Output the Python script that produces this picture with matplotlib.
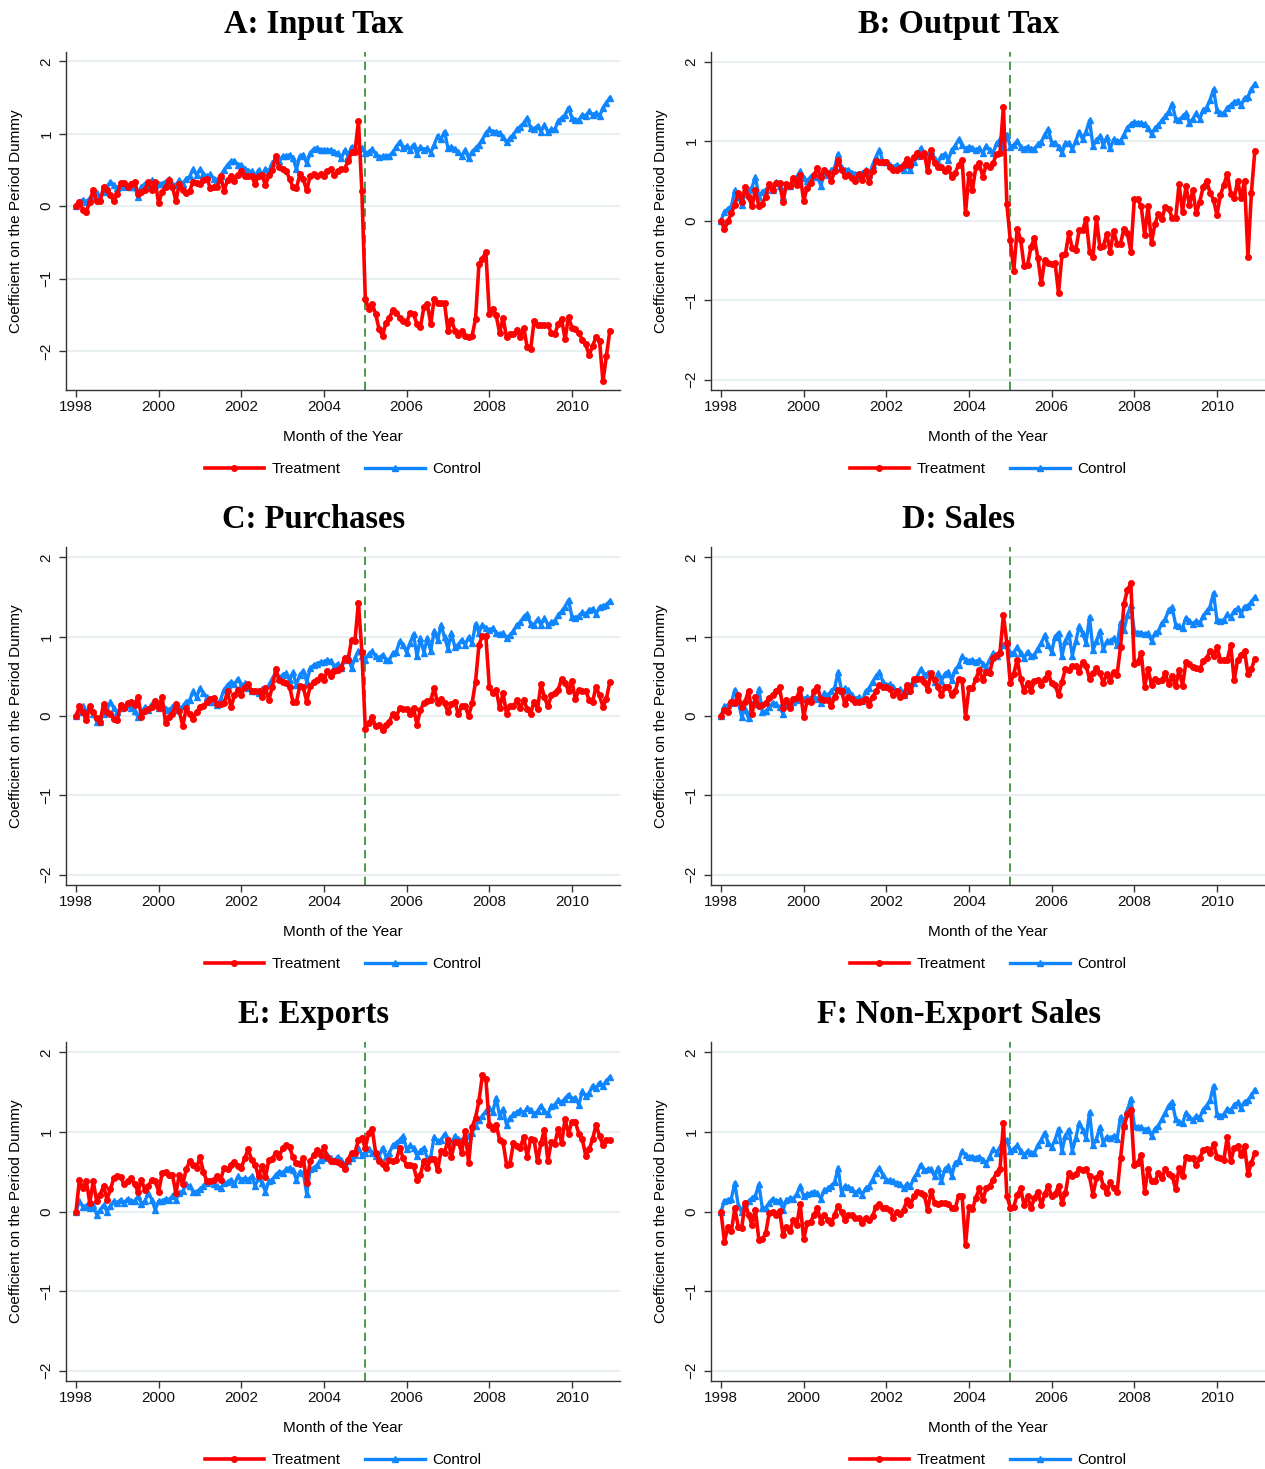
import numpy as np
import matplotlib
matplotlib.use("Agg")
import matplotlib.pyplot as plt
from matplotlib.lines import Line2D

# ---- monthly coefficients, 1998m1 .. 2010m12 (156 months) ----
input_tax_treat = [
    0.00, 0.06, -0.05, -0.08, 0.06, 0.23, 0.07, 0.07, 0.26, 0.22, 0.15, 0.07,
    0.17, 0.32, 0.32, 0.27, 0.31, 0.34, 0.17, 0.20, 0.23, 0.34, 0.22, 0.34,
    0.04, 0.20, 0.27, 0.36, 0.27, 0.07, 0.31, 0.23, 0.18, 0.21, 0.34, 0.32,
    0.31, 0.36, 0.38, 0.25, 0.27, 0.27, 0.42, 0.21, 0.36, 0.41, 0.35, 0.43,
    0.48, 0.42, 0.42, 0.41, 0.31, 0.42, 0.43, 0.29, 0.43, 0.50, 0.69, 0.54,
    0.51, 0.49, 0.38, 0.26, 0.25, 0.44, 0.37, 0.22, 0.42, 0.45, 0.41, 0.45,
    0.41, 0.48, 0.51, 0.43, 0.48, 0.51, 0.52, 0.62, 0.75, 0.75, 1.18, 0.21,
    -1.28, -1.42, -1.35, -1.49, -1.70, -1.79, -1.61, -1.54, -1.44, -1.47, -1.54, -1.58,
    -1.61, -1.47, -1.49, -1.63, -1.67, -1.40, -1.35, -1.63, -1.28, -1.34, -1.34, -1.34,
    -1.72, -1.57, -1.72, -1.78, -1.72, -1.79, -1.81, -1.79, -1.56, -0.80, -0.73, -0.63,
    -1.49, -1.42, -1.51, -1.75, -1.54, -1.81, -1.77, -1.77, -1.71, -1.81, -1.68, -1.95,
    -1.98, -1.59, -1.64, -1.64, -1.64, -1.64, -1.75, -1.77, -1.63, -1.56, -1.84, -1.53,
    -1.68, -1.70, -1.75, -1.85, -1.91, -2.06, -1.93, -1.81, -1.86, -2.42, -2.07, -1.72,
]
input_tax_ctrl = [
    0.00, 0.06, 0.09, 0.06, 0.11, 0.13, 0.18, 0.11, 0.20, 0.27, 0.34, 0.29,
    0.25, 0.27, 0.28, 0.27, 0.26, 0.27, 0.13, 0.27, 0.31, 0.26, 0.36, 0.29,
    0.31, 0.31, 0.34, 0.37, 0.31, 0.29, 0.36, 0.31, 0.38, 0.41, 0.51, 0.43,
    0.51, 0.45, 0.41, 0.44, 0.38, 0.36, 0.42, 0.50, 0.57, 0.62, 0.63, 0.57,
    0.57, 0.52, 0.49, 0.48, 0.41, 0.50, 0.43, 0.51, 0.49, 0.59, 0.66, 0.62,
    0.69, 0.69, 0.71, 0.66, 0.51, 0.69, 0.71, 0.59, 0.73, 0.79, 0.80, 0.78,
    0.78, 0.77, 0.78, 0.75, 0.73, 0.66, 0.77, 0.69, 0.82, 0.81, 0.78, 0.80,
    0.73, 0.75, 0.79, 0.72, 0.68, 0.69, 0.69, 0.69, 0.75, 0.82, 0.89, 0.80,
    0.83, 0.78, 0.85, 0.72, 0.82, 0.78, 0.80, 0.74, 0.85, 0.97, 0.93, 1.03,
    0.80, 0.82, 0.79, 0.75, 0.69, 0.78, 0.66, 0.75, 0.80, 0.85, 0.92, 1.01,
    1.06, 1.03, 1.03, 1.01, 0.95, 0.88, 0.94, 0.99, 1.06, 1.10, 1.15, 1.22,
    1.08, 1.06, 1.11, 1.03, 1.12, 1.03, 1.06, 1.06, 1.17, 1.22, 1.26, 1.36,
    1.22, 1.19, 1.19, 1.26, 1.25, 1.31, 1.26, 1.29, 1.24, 1.36, 1.43, 1.50,
]

output_tax_treat = [
    0.00, -0.11, -0.01, 0.09, 0.20, 0.35, 0.24, 0.42, 0.30, 0.18, 0.38, 0.18,
    0.21, 0.30, 0.46, 0.38, 0.47, 0.47, 0.24, 0.46, 0.43, 0.54, 0.45, 0.57,
    0.25, 0.41, 0.47, 0.57, 0.66, 0.55, 0.63, 0.60, 0.50, 0.62, 0.76, 0.63,
    0.56, 0.57, 0.54, 0.50, 0.59, 0.51, 0.62, 0.48, 0.62, 0.75, 0.74, 0.74,
    0.74, 0.67, 0.64, 0.64, 0.66, 0.70, 0.78, 0.70, 0.80, 0.85, 0.81, 0.85,
    0.62, 0.89, 0.72, 0.67, 0.67, 0.62, 0.66, 0.55, 0.60, 0.70, 0.76, 0.10,
    0.59, 0.39, 0.67, 0.72, 0.55, 0.70, 0.68, 0.72, 0.84, 0.85, 1.43, 0.21,
    -0.25, -0.63, -0.10, -0.24, -0.57, -0.56, -0.33, -0.22, -0.47, -0.79, -0.49, -0.53,
    -0.54, -0.53, -0.91, -0.43, -0.42, -0.16, -0.35, -0.37, -0.12, -0.12, 0.02, -0.39,
    -0.46, 0.03, -0.33, -0.32, -0.17, -0.39, -0.13, -0.29, -0.29, -0.10, -0.16, -0.39,
    0.27, 0.27, 0.18, -0.18, 0.18, -0.28, -0.04, 0.08, 0.02, 0.17, 0.15, 0.03,
    0.03, 0.46, 0.11, 0.43, 0.20, 0.38, 0.09, 0.24, 0.42, 0.50, 0.35, 0.26,
    0.07, 0.32, 0.45, 0.59, 0.34, 0.28, 0.50, 0.28, 0.50, -0.46, 0.35, 0.88,
]
output_tax_ctrl = [
    0.00, 0.11, 0.15, 0.18, 0.38, 0.30, 0.20, 0.34, 0.38, 0.42, 0.55, 0.30,
    0.36, 0.39, 0.43, 0.38, 0.48, 0.44, 0.30, 0.44, 0.43, 0.49, 0.55, 0.62,
    0.53, 0.50, 0.55, 0.59, 0.55, 0.44, 0.59, 0.57, 0.63, 0.67, 0.84, 0.66,
    0.64, 0.64, 0.60, 0.59, 0.56, 0.60, 0.63, 0.57, 0.70, 0.80, 0.89, 0.74,
    0.74, 0.70, 0.67, 0.70, 0.68, 0.64, 0.70, 0.63, 0.74, 0.81, 0.91, 0.84,
    0.81, 0.87, 0.78, 0.74, 0.81, 0.84, 0.76, 0.89, 0.94, 1.02, 0.95, 0.90,
    0.93, 0.91, 0.89, 0.91, 0.85, 0.94, 0.89, 0.85, 0.97, 1.02, 0.93, 1.08,
    0.93, 0.95, 1.00, 0.93, 0.90, 0.93, 0.90, 0.90, 0.96, 0.99, 1.08, 1.15,
    0.98, 0.98, 0.93, 0.85, 0.97, 0.98, 0.90, 1.00, 1.12, 1.02, 1.12, 1.26,
    0.94, 1.01, 1.06, 0.95, 1.05, 0.91, 1.02, 1.00, 1.00, 1.08, 1.17, 1.21,
    1.24, 1.23, 1.23, 1.21, 1.17, 1.09, 1.16, 1.20, 1.26, 1.31, 1.37, 1.47,
    1.28, 1.26, 1.31, 1.35, 1.23, 1.28, 1.35, 1.28, 1.39, 1.42, 1.52, 1.65,
    1.39, 1.35, 1.35, 1.42, 1.45, 1.49, 1.51, 1.45, 1.54, 1.56, 1.65, 1.72,
]

purchases_treat = [
    0.00, 0.12, 0.05, -0.05, 0.12, 0.05, -0.03, -0.07, 0.15, 0.05, 0.03, -0.04,
    -0.05, 0.14, 0.10, 0.16, 0.18, 0.14, 0.24, -0.01, 0.06, 0.09, 0.11, 0.19,
    0.10, 0.24, -0.09, -0.01, 0.03, 0.15, 0.06, -0.13, 0.10, 0.03, -0.04, 0.05,
    0.11, 0.13, 0.18, 0.22, 0.23, 0.15, 0.15, 0.16, 0.31, 0.11, 0.26, 0.33,
    0.26, 0.37, 0.40, 0.31, 0.31, 0.31, 0.24, 0.35, 0.20, 0.37, 0.59, 0.45,
    0.43, 0.42, 0.37, 0.18, 0.18, 0.38, 0.36, 0.18, 0.38, 0.43, 0.45, 0.50,
    0.45, 0.57, 0.51, 0.57, 0.58, 0.61, 0.73, 0.71, 0.96, 0.95, 1.43, 0.81,
    -0.16, -0.09, -0.01, -0.13, -0.11, -0.18, -0.11, -0.07, 0.03, -0.01, 0.10, 0.09,
    0.09, 0.03, 0.10, -0.11, 0.08, 0.16, 0.19, 0.20, 0.35, 0.16, 0.22, 0.16,
    0.05, 0.15, 0.18, 0.02, 0.12, 0.12, 0.00, 0.16, 0.43, 0.90, 1.01, 1.01,
    0.37, 0.29, 0.33, 0.10, 0.29, 0.03, 0.12, 0.12, 0.20, 0.10, 0.20, 0.09,
    0.03, 0.18, 0.09, 0.40, 0.24, 0.12, 0.26, 0.29, 0.33, 0.47, 0.42, 0.32,
    0.44, 0.21, 0.33, 0.31, 0.32, 0.20, 0.18, 0.37, 0.26, 0.11, 0.22, 0.43,
]
purchases_ctrl = [
    0.00, 0.05, 0.12, 0.03, 0.10, 0.03, -0.07, -0.07, 0.03, 0.08, 0.18, 0.10,
    0.05, 0.10, 0.11, 0.14, 0.10, 0.06, -0.01, 0.05, 0.11, 0.08, 0.15, 0.15,
    0.10, 0.15, 0.09, 0.08, 0.11, 0.08, 0.10, 0.12, 0.18, 0.20, 0.31, 0.24,
    0.35, 0.29, 0.24, 0.18, 0.18, 0.14, 0.21, 0.33, 0.39, 0.43, 0.40, 0.47,
    0.39, 0.41, 0.35, 0.32, 0.31, 0.29, 0.34, 0.31, 0.39, 0.47, 0.54, 0.48,
    0.52, 0.54, 0.45, 0.55, 0.39, 0.52, 0.57, 0.43, 0.60, 0.64, 0.66, 0.68,
    0.68, 0.71, 0.69, 0.62, 0.66, 0.60, 0.71, 0.75, 0.61, 0.73, 0.82, 0.75,
    0.71, 0.78, 0.82, 0.75, 0.73, 0.77, 0.71, 0.71, 0.79, 0.81, 0.94, 0.90,
    0.80, 0.92, 1.03, 0.75, 0.98, 0.80, 0.98, 0.82, 1.07, 0.96, 1.15, 0.99,
    0.85, 1.04, 0.87, 0.90, 0.96, 0.90, 0.99, 0.92, 1.16, 1.05, 1.15, 1.11,
    1.08, 1.11, 1.05, 1.03, 1.05, 0.98, 1.02, 1.07, 1.15, 1.18, 1.25, 1.29,
    1.16, 1.15, 1.22, 1.15, 1.23, 1.15, 1.18, 1.20, 1.27, 1.32, 1.38, 1.46,
    1.25, 1.24, 1.26, 1.31, 1.28, 1.34, 1.35, 1.29, 1.37, 1.39, 1.40, 1.45,
]

sales_treat = [
    0.00, 0.08, 0.05, 0.18, 0.16, 0.27, 0.11, 0.18, 0.32, 0.03, 0.24, 0.13,
    0.14, 0.17, 0.23, 0.26, 0.31, 0.36, 0.10, 0.20, 0.10, 0.22, 0.23, 0.34,
    -0.01, 0.19, 0.18, 0.31, 0.37, 0.21, 0.20, 0.20, 0.12, 0.24, 0.33, 0.31,
    0.15, 0.24, 0.21, 0.18, 0.18, 0.19, 0.22, 0.14, 0.24, 0.31, 0.39, 0.37,
    0.36, 0.34, 0.26, 0.31, 0.24, 0.27, 0.39, 0.31, 0.47, 0.47, 0.47, 0.43,
    0.33, 0.54, 0.45, 0.37, 0.26, 0.36, 0.36, 0.26, 0.31, 0.47, 0.45, -0.01,
    0.35, 0.35, 0.47, 0.58, 0.45, 0.56, 0.54, 0.73, 0.77, 0.80, 1.27, 0.92,
    0.41, 0.53, 0.71, 0.47, 0.31, 0.42, 0.31, 0.44, 0.45, 0.39, 0.47, 0.54,
    0.41, 0.39, 0.26, 0.43, 0.59, 0.58, 0.63, 0.63, 0.56, 0.68, 0.63, 0.47,
    0.54, 0.60, 0.54, 0.42, 0.53, 0.44, 0.55, 0.52, 0.87, 1.41, 1.59, 1.67,
    0.66, 0.68, 0.79, 0.37, 0.59, 0.39, 0.47, 0.44, 0.45, 0.54, 0.40, 0.50,
    0.38, 0.58, 0.38, 0.68, 0.66, 0.62, 0.60, 0.59, 0.69, 0.73, 0.82, 0.75,
    0.87, 0.71, 0.71, 0.71, 0.89, 0.45, 0.71, 0.77, 0.82, 0.53, 0.59, 0.72,
]
sales_ctrl = [
    0.00, 0.12, 0.14, 0.16, 0.33, 0.18, -0.01, 0.09, -0.03, 0.15, 0.15, 0.34,
    0.05, 0.06, 0.11, 0.16, 0.15, 0.11, 0.03, 0.16, 0.15, 0.18, 0.20, 0.26,
    0.21, 0.24, 0.22, 0.24, 0.22, 0.17, 0.29, 0.26, 0.31, 0.36, 0.55, 0.32,
    0.35, 0.33, 0.26, 0.22, 0.24, 0.19, 0.31, 0.35, 0.43, 0.50, 0.55, 0.43,
    0.39, 0.40, 0.37, 0.31, 0.34, 0.27, 0.32, 0.39, 0.42, 0.50, 0.59, 0.52,
    0.54, 0.50, 0.43, 0.54, 0.44, 0.53, 0.56, 0.45, 0.58, 0.64, 0.75, 0.71,
    0.69, 0.71, 0.68, 0.71, 0.66, 0.62, 0.71, 0.79, 0.75, 0.82, 0.89, 0.92,
    0.79, 0.80, 0.87, 0.79, 0.73, 0.81, 0.75, 0.77, 0.85, 0.92, 1.02, 0.89,
    0.81, 1.00, 1.05, 0.76, 0.94, 1.04, 0.76, 0.94, 1.13, 1.04, 0.92, 1.25,
    0.83, 0.94, 1.07, 0.84, 0.94, 0.94, 0.98, 0.90, 1.18, 1.08, 1.27, 1.40,
    1.07, 1.05, 1.05, 1.03, 1.04, 0.95, 1.04, 1.07, 1.17, 1.22, 1.34, 1.37,
    1.15, 1.13, 1.11, 1.24, 1.20, 1.16, 1.20, 1.17, 1.26, 1.32, 1.38, 1.55,
    1.21, 1.20, 1.21, 1.28, 1.25, 1.32, 1.36, 1.29, 1.38, 1.39, 1.44, 1.50,
]

exports_treat = [
    0.00, 0.40, 0.29, 0.38, 0.11, 0.38, 0.13, 0.21, 0.32, 0.15, 0.28, 0.42,
    0.44, 0.43, 0.34, 0.38, 0.42, 0.35, 0.25, 0.40, 0.27, 0.32, 0.40, 0.38,
    0.25, 0.48, 0.50, 0.46, 0.46, 0.23, 0.46, 0.34, 0.53, 0.63, 0.59, 0.55,
    0.68, 0.50, 0.38, 0.38, 0.40, 0.44, 0.40, 0.55, 0.53, 0.59, 0.62, 0.57,
    0.55, 0.67, 0.78, 0.65, 0.59, 0.44, 0.57, 0.43, 0.65, 0.66, 0.74, 0.69,
    0.80, 0.83, 0.81, 0.68, 0.61, 0.60, 0.67, 0.36, 0.63, 0.71, 0.77, 0.71,
    0.81, 0.68, 0.63, 0.64, 0.62, 0.60, 0.53, 0.65, 0.74, 0.74, 0.90, 0.92,
    0.80, 0.99, 1.04, 0.74, 0.63, 0.60, 0.55, 0.65, 0.63, 0.65, 0.80, 0.67,
    0.58, 0.58, 0.57, 0.40, 0.46, 0.64, 0.55, 0.66, 0.66, 0.52, 0.76, 0.74,
    0.90, 0.69, 0.87, 0.87, 0.74, 1.01, 0.61, 1.06, 1.18, 1.39, 1.71, 1.67,
    1.09, 1.04, 1.09, 0.90, 0.87, 0.59, 0.60, 0.86, 0.82, 0.80, 0.94, 0.69,
    0.91, 0.90, 0.63, 0.86, 1.03, 0.64, 0.87, 0.85, 1.04, 0.86, 1.16, 0.98,
    1.13, 1.12, 0.98, 0.91, 0.70, 0.78, 0.91, 1.09, 0.95, 0.83, 0.90, 0.90,
]
exports_ctrl = [
    0.00, 0.13, 0.06, 0.07, 0.04, 0.08, -0.04, 0.02, 0.08, 0.00, 0.07, 0.13,
    0.11, 0.15, 0.11, 0.16, 0.13, 0.13, 0.19, 0.10, 0.13, 0.23, 0.15, 0.02,
    0.13, 0.13, 0.16, 0.15, 0.19, 0.15, 0.23, 0.26, 0.34, 0.32, 0.25, 0.25,
    0.28, 0.32, 0.36, 0.38, 0.34, 0.32, 0.29, 0.36, 0.37, 0.40, 0.34, 0.44,
    0.40, 0.42, 0.40, 0.44, 0.32, 0.42, 0.36, 0.25, 0.38, 0.40, 0.46, 0.50,
    0.49, 0.53, 0.55, 0.52, 0.40, 0.50, 0.48, 0.22, 0.53, 0.55, 0.58, 0.65,
    0.67, 0.71, 0.67, 0.63, 0.69, 0.65, 0.59, 0.63, 0.67, 0.71, 0.80, 0.71,
    0.74, 0.78, 0.74, 0.70, 0.69, 0.80, 0.69, 0.74, 0.83, 0.86, 0.90, 0.95,
    0.78, 0.83, 0.80, 0.70, 0.76, 0.80, 0.67, 0.69, 0.94, 0.88, 0.90, 0.97,
    0.90, 0.84, 0.95, 0.91, 0.90, 0.90, 0.95, 0.99, 1.08, 1.15, 1.20, 1.26,
    1.30, 1.25, 1.43, 1.20, 1.29, 1.09, 1.18, 1.22, 1.25, 1.27, 1.24, 1.30,
    1.28, 1.22, 1.26, 1.33, 1.26, 1.22, 1.33, 1.34, 1.40, 1.37, 1.42, 1.47,
    1.41, 1.43, 1.34, 1.51, 1.45, 1.49, 1.58, 1.55, 1.62, 1.58, 1.64, 1.69,
]

nonexport_treat = [
    0.00, -0.38, -0.19, -0.25, 0.04, -0.19, -0.21, 0.11, -0.04, -0.17, 0.02, -0.36,
    -0.35, -0.27, -0.02, -0.01, -0.04, 0.01, -0.29, -0.19, -0.24, -0.11, -0.17, 0.10,
    -0.35, -0.15, -0.13, -0.04, 0.04, -0.13, -0.04, -0.11, -0.15, -0.04, 0.07, -0.01,
    -0.11, -0.04, -0.05, -0.08, -0.08, -0.15, -0.08, -0.11, -0.06, 0.06, 0.10, 0.04,
    0.04, 0.02, -0.08, 0.00, -0.03, 0.02, 0.14, 0.08, 0.19, 0.24, 0.23, 0.21,
    0.02, 0.26, 0.11, 0.10, 0.11, 0.11, 0.10, 0.04, 0.04, 0.20, 0.20, -0.42,
    0.06, 0.03, 0.17, 0.29, 0.15, 0.29, 0.32, 0.40, 0.49, 0.53, 1.11, 0.19,
    0.05, 0.06, 0.21, 0.29, 0.08, 0.19, 0.04, 0.17, 0.25, 0.08, 0.22, 0.32,
    0.19, 0.22, 0.32, 0.11, 0.23, 0.49, 0.44, 0.47, 0.53, 0.52, 0.53, 0.44,
    0.21, 0.42, 0.49, 0.32, 0.23, 0.37, 0.29, 0.24, 0.67, 1.07, 1.22, 1.28,
    0.58, 0.61, 0.71, 0.25, 0.53, 0.38, 0.38, 0.48, 0.42, 0.53, 0.47, 0.45,
    0.28, 0.55, 0.44, 0.69, 0.67, 0.67, 0.58, 0.67, 0.77, 0.79, 0.74, 0.85,
    0.69, 0.67, 0.65, 0.94, 0.63, 0.80, 0.82, 0.71, 0.82, 0.47, 0.61, 0.74,
]
nonexport_ctrl = [
    0.00, 0.13, 0.15, 0.16, 0.36, 0.08, -0.01, 0.11, 0.13, 0.17, 0.20, 0.34,
    0.04, 0.05, 0.11, 0.16, 0.13, 0.14, 0.02, 0.14, 0.17, 0.16, 0.22, 0.32,
    0.19, 0.22, 0.23, 0.25, 0.23, 0.16, 0.27, 0.29, 0.32, 0.37, 0.55, 0.23,
    0.32, 0.31, 0.28, 0.23, 0.27, 0.21, 0.29, 0.32, 0.40, 0.49, 0.55, 0.46,
    0.40, 0.39, 0.38, 0.36, 0.35, 0.29, 0.35, 0.32, 0.42, 0.49, 0.59, 0.52,
    0.53, 0.53, 0.44, 0.55, 0.38, 0.53, 0.57, 0.45, 0.61, 0.64, 0.76, 0.71,
    0.68, 0.69, 0.67, 0.69, 0.65, 0.60, 0.69, 0.78, 0.74, 0.81, 0.90, 0.90,
    0.76, 0.79, 0.83, 0.76, 0.71, 0.76, 0.74, 0.74, 0.83, 0.90, 0.99, 0.86,
    0.81, 0.90, 1.04, 0.76, 0.95, 1.03, 0.76, 0.92, 1.11, 1.03, 0.92, 1.25,
    0.83, 0.91, 1.06, 0.86, 0.94, 0.92, 0.95, 0.91, 1.19, 1.08, 1.27, 1.42,
    1.08, 1.06, 1.06, 1.03, 1.04, 0.95, 1.04, 1.08, 1.16, 1.24, 1.33, 1.38,
    1.16, 1.12, 1.11, 1.24, 1.19, 1.15, 1.20, 1.18, 1.28, 1.33, 1.40, 1.58,
    1.22, 1.20, 1.22, 1.29, 1.27, 1.34, 1.37, 1.30, 1.38, 1.40, 1.46, 1.53,
]

titles = ["A: Input Tax", "B: Output Tax", "C: Purchases",
          "D: Sales", "E: Exports", "F: Non-Export Sales"]
treat_series = [input_tax_treat, output_tax_treat, purchases_treat,
                sales_treat, exports_treat, nonexport_treat]
ctrl_series = [input_tax_ctrl, output_tax_ctrl, purchases_ctrl,
               sales_ctrl, exports_ctrl, nonexport_ctrl]
y_ranges = [(-2.54, 2.13), (-2.13, 2.12), (-2.13, 2.13),
            (-2.13, 2.13), (-2.13, 2.13), (-2.13, 2.13)]
year_ticks = [1998, 2000, 2002, 2004, 2006, 2008, 2010]
y_ticks = [-2, -1, 0, 1, 2]
reform_date = 2005.0

months = 1998 + np.arange(len(input_tax_treat)) / 12.0

plt.rcParams['font.family'] = ['Liberation Sans', 'DejaVu Sans']
RED = '#ff0000'
BLUE = '#0f86ff'
GREEN = '#2a8a2a'

W, H = 1265.0, 1469.0
fig = plt.figure(figsize=(W / 100, H / 100), dpi=100)

col_left = [66, 711]
rows = [(52, 390), (547, 885), (1042, 1381)]
ax_w = 554

for i, (title, tr, ct, yr) in enumerate(zip(titles, treat_series, ctrl_series, y_ranges)):
    r, c = divmod(i, 2)
    top, bot = rows[r]
    ax = fig.add_axes([col_left[c] / W, 1 - bot / H, ax_w / W, (bot - top) / H])

    ax.set_xlim(1998 - 10 / 41.33, 1998 + 544 / 41.33)
    ax.set_ylim(*yr)
    ax.set_yticks(y_ticks)
    ax.set_yticklabels([f"{v}".replace('-', '\u2212') for v in y_ticks],
                       rotation=90, va='center')
    ax.set_xticks(year_ticks)
    ax.set_xticklabels([str(y) for y in year_ticks])
    ax.yaxis.grid(True, color='#e6eef0', lw=1.3)
    ax.set_axisbelow(True)

    for side in ('top', 'right'):
        ax.spines[side].set_visible(False)
    for side in ('left', 'bottom'):
        ax.spines[side].set_color('#333333')
        ax.spines[side].set_linewidth(1.0)
    ax.tick_params(axis='both', direction='out', length=5, width=1.0,
                   color='#333333', labelsize=11, labelcolor='#111111')
    ax.tick_params(axis='y', pad=4)
    ax.tick_params(axis='x', pad=2)

    ax.axvline(reform_date, color=GREEN, ls=(0, (5, 3)), lw=1.2, zorder=2)
    ax.plot(months, ct, color=BLUE, lw=2.4, marker='^', ms=4.5, zorder=3)
    ax.plot(months, tr, color=RED, lw=2.6, marker='o', ms=4, zorder=4)

    ax.set_title(title, fontfamily='Liberation Serif', fontweight='bold',
                 fontsize=23.5, pad=14, x=0.447)
    ax.set_xlabel('Month of the Year', fontsize=11)
    ax.xaxis.set_label_coords(0.5, -0.117)
    ax.set_ylabel('Coefficient on the Period Dummy', fontsize=11)
    ax.yaxis.set_label_coords(-0.078, 0.5)

    handles = [
        Line2D([], [], color=RED, lw=2.6, marker='o', ms=4),
        Line2D([], [], color=BLUE, lw=2.4, marker='^', ms=4.5),
    ]
    ax.legend(handles, ['Treatment', 'Control'], loc='center',
              bbox_to_anchor=(0.5, -0.234), ncol=2, frameon=False,
              fontsize=11, handlelength=3.9, handletextpad=0.5,
              columnspacing=1.6, numpoints=1)

fig.savefig('out.png', dpi=100)
